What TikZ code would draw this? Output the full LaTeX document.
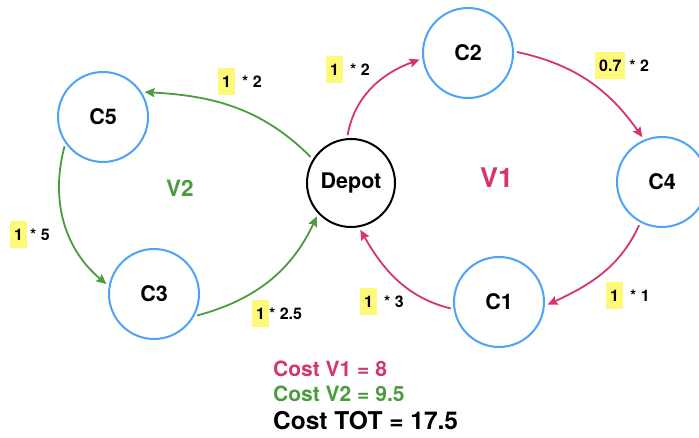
\documentclass[tikz,border=0pt]{standalone}
\usepackage{fontspec}
\setmainfont{TeX Gyre Heros}
\usetikzlibrary{arrows.meta}

\definecolor{custblue}{RGB}{77,163,245}
\definecolor{routeA}{RGB}{213,52,110}
\definecolor{routeB}{RGB}{76,155,62}
\definecolor{hl}{RGB}{255,249,122}

% yellow-highlighted demand value
\newcommand\wt[1]{{\setlength\fboxsep{0pt}\colorbox{hl}{\rule[-7.5pt]{0pt}{27pt}\hspace{4pt}#1\hspace{4pt}}}}

\tikzset{
  cust/.style={circle, draw=custblue, line width=2pt, minimum size=90pt, inner sep=0pt,
               font=\fontsize{21.5}{24}\selectfont\bfseries},
  depot/.style={circle, draw=black, line width=2pt, minimum size=88pt, inner sep=0pt,
               font=\fontsize{21.5}{24}\selectfont\bfseries},
  edge/.style={line width=1.8pt, shorten <=3pt, shorten >=3pt,
               -{Stealth[length=10pt,width=9pt,inset=1.5pt]}},
  ra/.style={edge, draw=routeA},
  rb/.style={edge, draw=routeB},
  wlabel/.style={anchor=west, inner sep=0pt, font=\fontsize{16}{18}\selectfont\bfseries},
  vlabel/.style={anchor=west, inner sep=0pt},
  cost/.style={anchor=base west, inner sep=0pt, font=\fontsize{21}{24}\selectfont\bfseries}
}

\begin{document}
\begin{tikzpicture}[x=1pt, y=1pt]
\useasboundingbox (0,0) rectangle (699,438);
\fill[white] (0,0) rectangle (699,438);

% nodes
\node[depot] (D)  at (351,255) {Depot};
\node[cust]  (C2) at (468,385) {C2};
\node[cust]  (C4) at (662,256) {C4};
\node[cust]  (C1) at (499,136) {C1};
\node[cust]  (C5) at (103,321) {C5};
\node[cust]  (C3) at (154,144) {C3};

% route labels
\node[vlabel, text=routeA, font=\fontsize{27}{30}\selectfont\bfseries] (V1) at (480,260) {V1};
\node[vlabel, text=routeB, font=\fontsize{22.5}{25}\selectfont\bfseries] (V2) at (166,250) {V2};

% route V1
\draw[ra] (D.95)   to[out=80,  in=200] (C2.187);
\draw[ra] (C2.2)   to[out=-12, in=125] (C4.113);
\draw[ra] (C4.242) to[out=-115,in=25]  (C1.355);
\draw[ra] (C1.189) to[out=166, in=-60] (D.280);

% route V2
\draw[rb] (D.148)  to[out=135, in=-3]  (C5.33);
\draw[rb] (C5.215) to[out=-105,in=140] (C3.170);
\draw[rb] (C3.331) to[out=15,  in=245] (D.223);

% weights
\node[wlabel] (w1) at (218,356.5) {\wt{1}\hspace{7pt}* 2};
\node[wlabel] (w2) at (326,368.5) {\wt{1}\hspace{7pt}* 2};
\node[wlabel] (w3) at (595,372.5) {\wt{0.7}\hspace{4pt}* 2};
\node[wlabel] (w4) at (606,142.5) {\wt{1}\hspace{7pt}* 1};
\node[wlabel] (w5) at (10,203)    {\wt{1}\hspace{3pt}* 5};
\node[wlabel] (w6) at (252,124)   {\wt{1}* 2.5};
\node[wlabel] (w7) at (360,136)   {\wt{1}\hspace{7pt}* 3};

% totals
\node[cost, text=routeA] (t1) at (273,61) {Cost V1 = 8};
\node[cost, text=routeB] (t2) at (273,36) {Cost V2 = 9.5};
\node[cost, font=\fontsize{24.5}{28}\selectfont\bfseries] (t3) at (273,8) {Cost TOT = 17.5};
\end{tikzpicture}
\end{document}
